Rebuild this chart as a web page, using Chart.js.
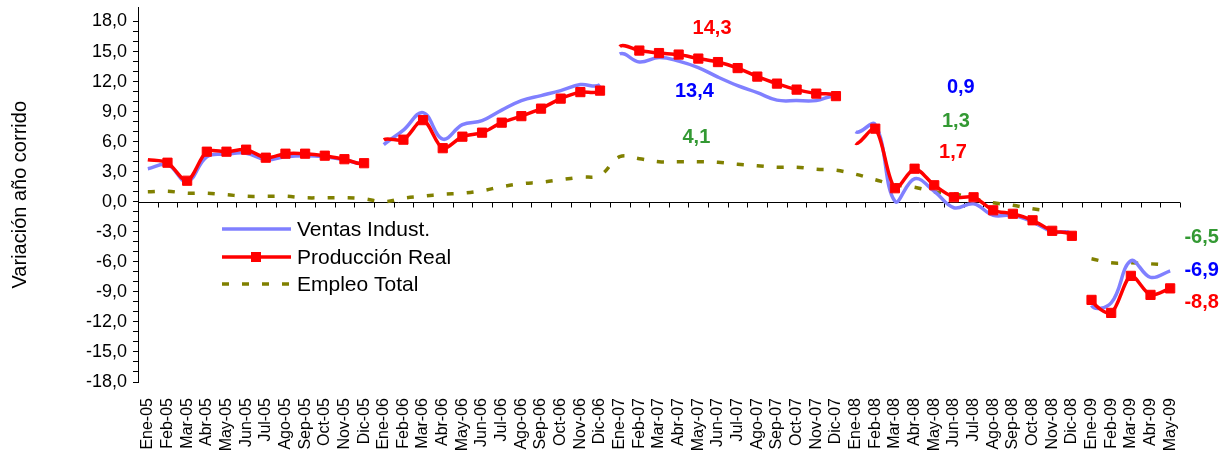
<!DOCTYPE html>
<html>
<head>
<meta charset="utf-8">
<script src="https://cdn.jsdelivr.net/npm/chart.js@4.4.0/dist/chart.umd.min.js"></script>
<style>
  html, body { margin: 0; padding: 0; background: #fff; }
  #contenedor { width: 1232px; height: 453px; }
</style>
</head>
<body>
<div id="contenedor"><canvas id="grafica"></canvas></div>
<script>
const meses = [
    'Ene-05', 'Feb-05', 'Mar-05', 'Abr-05', 'May-05', 'Jun-05', 'Jul-05', 'Ago-05', 'Sep-05', 'Oct-05', 'Nov-05', 'Dic-05',
    'Ene-06', 'Feb-06', 'Mar-06', 'Abr-06', 'May-06', 'Jun-06', 'Jul-06', 'Ago-06', 'Sep-06', 'Oct-06', 'Nov-06', 'Dic-06',
    'Ene-07', 'Feb-07', 'Mar-07', 'Abr-07', 'May-07', 'Jun-07', 'Jul-07', 'Ago-07', 'Sep-07', 'Oct-07', 'Nov-07', 'Dic-07',
    'Ene-08', 'Feb-08', 'Mar-08', 'Abr-08', 'May-08', 'Jun-08', 'Jul-08', 'Ago-08', 'Sep-08', 'Oct-08', 'Nov-08', 'Dic-08',
    'Ene-09', 'Feb-09', 'Mar-09', 'Abr-09', 'May-09'
];

const ventasIndust = [
    3.3, 3.7, 2.0, 4.5, 4.75, 4.85, 4.2, 4.5, 4.6, 4.5, 4.2, 3.9,
    5.7, 7.15, 8.9, 6.25, 7.7, 8.1, 9.15, 10.1, 10.6, 11.1, 11.7, 11.7,
    14.75, 13.95, 14.4, 14.05, 13.4, 12.45, 11.6, 10.9, 10.15, 10.1, 10.1, 10.4,
    7.0, 7.7, 0.05, 2.3, 1.05, -0.6, -0.2, -1.35, -1.35, -2.0, -3.0, -3.3,
    -10.35, -10.1, -5.9, -7.55, -6.9
];

const produccionReal = [
    4.2, 3.9, 2.1, 5.0, 5.0, 5.2, 4.4, 4.8, 4.8, 4.6, 4.25, 3.85,
    6.2, 6.2, 8.15, 5.35, 6.5, 6.9, 7.9, 8.55, 9.3, 10.3, 10.95, 11.1,
    15.5, 15.1, 14.85, 14.7, 14.3, 13.95, 13.35, 12.5, 11.8, 11.2, 10.8, 10.55,
    5.85, 7.3, 1.35, 3.3, 1.65, 0.45, 0.45, -0.85, -1.2, -1.85, -2.9, -3.4,
    -9.8, -11.1, -7.4, -9.3, -8.65
];

const empleoTotal = [
    1.0, 1.05, 0.85, 0.85, 0.7, 0.55, 0.55, 0.55, 0.4, 0.4, 0.4, 0.3,
    0.0, 0.35, 0.55, 0.75, 0.85, 1.1, 1.5, 1.8, 1.95, 2.2, 2.45, 2.65,
    4.5, 4.3, 4.0, 4.0, 4.0, 3.95, 3.75, 3.6, 3.45, 3.45, 3.25, 3.15,
    2.75, 2.2, 1.7, 1.45, 1.0, 0.8, 0.3, -0.1, -0.35, -0.7, -0.95, null,
    -5.7, -6.1, -6.1, -6.2, -6.3
];

// meses de produccion sin marcador
const sinMarcador = ['Ene-05', 'Ene-06', 'Ene-07', 'Ene-08'];

// textos sobre la grafica: [texto, color, posicion en categorias, valor]
const etiquetas = [
    ['14,3', '#FF0000', 28.7, 17.3],
    ['13,4', '#0000FF', 27.8, 11.06],
    ['4,1', '#339933', 27.9, 6.4],
    ['0,9', '#0000FF', 41.35, 11.46],
    ['1,3', '#339933', 41.1, 7.99],
    ['1,7', '#FF0000', 40.95, 4.91],
    ['-6,5', '#339933', 53.6, -3.52],
    ['-6,9', '#0000FF', 53.6, -6.9],
    ['-8,8', '#FF0000', 53.6, -10.07]
];

const corteAnual = ctx => meses[ctx.p1DataIndex].startsWith('Ene') ? 'rgba(0,0,0,0)' : undefined;

const ejeCero = {
    id: 'ejeCero',
    beforeDatasetsDraw(chart) {
        const { ctx, chartArea, scales: { x, y } } = chart;
        const y0 = Math.round(y.getPixelForValue(0)) + 0.5;
        const paso = x.getPixelForValue(1) - x.getPixelForValue(0);
        ctx.save();
        ctx.strokeStyle = '#000';
        ctx.lineWidth = 1;
        ctx.beginPath();
        ctx.moveTo(chartArea.left, y0);
        ctx.lineTo(chartArea.right, y0);
        for (let i = 0; i <= meses.length; i++) {
            const px = Math.round(x.getPixelForValue(0) - paso / 2 + i * paso) + 0.5;
            ctx.moveTo(px, y0);
            ctx.lineTo(px, y0 + 5);
        }
        ctx.stroke();
        ctx.restore();
    }
};

const leyenda = {
    id: 'leyenda',
    afterDraw(chart) {
        const ctx = chart.ctx;
        const filas = [
            { texto: 'Ventas Indust.', ds: 0, y: 229 },
            { texto: 'Producción Real', ds: 1, y: 257, marcador: true },
            { texto: 'Empleo Total', ds: 2, y: 284 }
        ];
        ctx.save();
        filas.forEach(f => {
            const d = chart.data.datasets[f.ds];
            ctx.strokeStyle = d.borderColor;
            ctx.lineWidth = d.borderWidth;
            ctx.setLineDash(d.borderDash || []);
            ctx.beginPath();
            ctx.moveTo(222, f.y);
            ctx.lineTo(291, f.y);
            ctx.stroke();
            ctx.setLineDash([]);
            if (f.marcador) {
                ctx.fillStyle = d.borderColor;
                ctx.fillRect(251, f.y - 5, 10, 10);
            }
            ctx.fillStyle = '#000';
            ctx.font = '21px Arial';
            ctx.textAlign = 'left';
            ctx.textBaseline = 'middle';
            ctx.fillText(f.texto, 297, f.y + 1);
        });
        ctx.restore();
    }
};

const rotulos = {
    id: 'rotulos',
    afterDraw(chart) {
        const { ctx, scales: { x, y } } = chart;
        const paso = x.getPixelForValue(1) - x.getPixelForValue(0);
        ctx.save();
        ctx.font = 'bold 20px Arial';
        ctx.textAlign = 'center';
        ctx.textBaseline = 'middle';
        etiquetas.forEach(([texto, color, pos, valor]) => {
            ctx.fillStyle = color;
            ctx.fillText(texto, x.getPixelForValue(0) + pos * paso, y.getPixelForValue(valor));
        });
        ctx.restore();
    }
};

new Chart(document.getElementById('grafica').getContext('2d'), {
    type: 'line',
    data: {
        labels: meses,
        datasets: [
            {
                label: 'Ventas Indust.',
                data: ventasIndust,
                borderColor: '#8080FF',
                borderWidth: 3.5,
                pointRadius: 0,
                tension: 0.4,
                order: 1,
                segment: { borderColor: corteAnual }
            },
            {
                label: 'Producción Real',
                data: produccionReal,
                borderColor: '#FF0000',
                borderWidth: 3.5,
                pointStyle: 'rect',
                pointRadius: meses.map(m => sinMarcador.includes(m) ? 0 : 6.5),
                pointBackgroundColor: '#FF0000',
                pointBorderColor: '#FF0000',
                pointBorderWidth: 1,
                tension: 0.3,
                order: 0,
                segment: { borderColor: corteAnual }
            },
            {
                label: 'Empleo Total',
                data: empleoTotal,
                borderColor: '#808000',
                borderWidth: 3.5,
                borderDash: [7, 13],
                pointRadius: 0,
                tension: 0.4,
                order: 2
            }
        ]
    },
    options: {
        responsive: true,
        maintainAspectRatio: false,
        animation: false,
        events: [],
        layout: { padding: { left: 0, right: 52, top: 1, bottom: 0 } },
        plugins: {
            legend: { display: false },
            tooltip: { enabled: false }
        },
        scales: {
            x: {
                offset: true,
                grid: { display: false },
                border: { display: false },
                ticks: {
                    autoSkip: false,
                    minRotation: 90,
                    maxRotation: 90,
                    padding: 8,
                    color: '#000',
                    font: { family: 'Arial', size: 16 }
                },
                afterFit: s => { s.height = 71; }
            },
            y: {
                min: -18,
                max: 19.4,
                ticks: {
                    stepSize: 1,
                    autoSkip: false,
                    padding: 6,
                    color: '#000',
                    font: { family: 'Arial', size: 18 },
                    callback: v => (Number.isInteger(v) && v % 3 === 0) ? v.toFixed(1).replace('.', ',') : ''
                },
                afterBuildTicks: s => { s.ticks = s.ticks.filter(t => Number.isInteger(t.value)); },
                afterFit: s => { s.width = 138; s.paddingTop = 0; s.paddingBottom = 0; },
                grid: { drawOnChartArea: false, tickLength: 5, tickColor: '#000' },
                border: { display: true, color: '#000', width: 1 },
                title: {
                    display: true,
                    text: 'Variación año corrido',
                    color: '#000',
                    font: { family: 'Arial', size: 20 },
                    padding: { top: 8, bottom: 0 }
                }
            }
        }
    },
    plugins: [ejeCero, leyenda, rotulos]
});
</script>
</body>
</html>
